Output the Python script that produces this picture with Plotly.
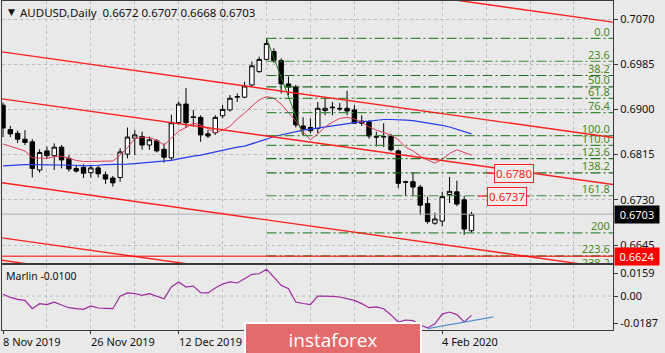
import plotly.graph_objects as go

# ---------------- data ----------------
dates = ["2019-11-08","2019-11-11","2019-11-12","2019-11-13","2019-11-14","2019-11-15",
         "2019-11-18","2019-11-19","2019-11-20","2019-11-21","2019-11-22",
         "2019-11-25","2019-11-26","2019-11-27","2019-11-28","2019-11-29",
         "2019-12-02","2019-12-03","2019-12-04","2019-12-05","2019-12-06",
         "2019-12-09","2019-12-10","2019-12-11","2019-12-12","2019-12-13",
         "2019-12-16","2019-12-17","2019-12-18","2019-12-19","2019-12-20",
         "2019-12-23","2019-12-24","2019-12-26","2019-12-27","2019-12-30","2019-12-31",
         "2020-01-02","2020-01-03","2020-01-06","2020-01-07","2020-01-08","2020-01-09","2020-01-10",
         "2020-01-13","2020-01-14","2020-01-15","2020-01-16","2020-01-17",
         "2020-01-20","2020-01-21","2020-01-22","2020-01-23","2020-01-24",
         "2020-01-27","2020-01-28","2020-01-29","2020-01-30","2020-01-31",
         "2020-02-03","2020-02-04","2020-02-05","2020-02-06","2020-02-07","2020-02-10"]

opens = [0.6908,0.6862,0.6855,0.6844,0.6839,0.6786,0.6822,0.6813,0.6829,0.6808,
         0.6789,0.6791,0.6781,0.6790,0.6777,0.6771,0.6772,0.6816,0.6846,0.6849,
         0.6833,0.6841,0.6825,0.6809,0.6875,0.6910,0.6886,0.6885,0.6854,0.6856,
         0.6888,0.6899,0.6923,0.6923,0.6946,0.6971,0.6994,0.7009,0.6992,0.6948,
         0.6942,0.6869,0.6866,0.6864,0.6898,0.6903,0.6902,0.6902,0.6899,0.6878,
         0.6877,0.6849,0.6848,0.6849,0.6822,0.6764,0.6764,0.6754,0.6723,0.6686,
         0.6690,0.6740,0.6745,0.6730,0.6672]
highs = [0.6913,0.6869,0.6860,0.6861,0.6844,0.6825,0.6830,0.6836,0.6833,0.6814,
         0.6795,0.6797,0.6795,0.6794,0.6783,0.6775,0.6827,0.6866,0.6861,0.6858,
         0.6849,0.6844,0.6836,0.6890,0.6915,0.6940,0.6899,0.6889,0.6861,0.6889,
         0.6908,0.6927,0.6930,0.6952,0.6990,0.6999,0.7034,0.7015,0.6996,0.6962,
         0.6946,0.6885,0.6883,0.6914,0.6921,0.6914,0.6912,0.6935,0.6908,0.6889,
         0.6880,0.6858,0.6874,0.6854,0.6825,0.6766,0.6781,0.6758,0.6736,0.6706,
         0.6745,0.6773,0.6766,0.6737,0.6707]
lows = [0.6848,0.6848,0.6837,0.6833,0.6772,0.6781,0.6808,0.6786,0.6789,0.6783,
        0.6781,0.6771,0.6772,0.6772,0.6760,0.6755,0.6764,0.6808,0.6814,0.6824,
        0.6824,0.6819,0.6800,0.6804,0.6871,0.6865,0.6868,0.6839,0.6846,0.6852,
        0.6883,0.6896,0.6914,0.6921,0.6943,0.6969,0.6992,0.6987,0.6930,0.6927,
        0.6866,0.6851,0.6855,0.6855,0.6889,0.6889,0.6897,0.6889,0.6873,0.6869,
        0.6845,0.6830,0.6829,0.6821,0.6752,0.6737,0.6737,0.6701,0.6685,0.6683,
        0.6680,0.6724,0.6718,0.6664,0.6668]
closes = [0.6865,0.6854,0.6844,0.6838,0.6789,0.6819,0.6813,0.6829,0.6805,0.6788,
          0.6784,0.6780,0.6790,0.6779,0.6769,0.6762,0.6820,0.6848,0.6852,0.6833,
          0.6843,0.6822,0.6810,0.6875,0.6910,0.6875,0.6885,0.6852,0.6850,0.6885,
          0.6900,0.6921,0.6924,0.6944,0.6982,0.6994,0.7024,0.6992,0.6948,0.6942,
          0.6871,0.6863,0.6860,0.6902,0.6902,0.6904,0.6901,0.6897,0.6874,0.6874,
          0.6850,0.6848,0.6849,0.6824,0.6761,0.6763,0.6754,0.6720,0.6689,0.6694,
          0.6736,0.6746,0.6722,0.6675,0.6703]

ma_fast = [0.6835,0.6831,0.6827,0.6822,0.6809,0.6808,0.6808,0.6811,0.6812,0.6808,
           0.6804,0.6802,0.6802,0.6802,0.6802,0.6803,0.6814,0.6828,0.6845,0.6848,
           0.6847,0.6842,0.6833,0.6846,0.6859,0.6866,0.6874,0.6871,0.6864,0.6856,
           0.6861,0.6868,0.6882,0.6893,0.6906,0.6918,0.6924,0.6921,0.6910,0.6895,
           0.6878,0.6858,0.6843,0.6854,0.6867,0.6876,0.6883,0.6885,0.6882,0.6876,
           0.6867,0.6861,0.6856,0.6852,0.6843,0.6829,0.6822,0.6812,0.6805,0.6799,
           0.6806,0.6817,0.6824,0.6819,0.6814]
ma_slow = [0.6794,0.6795,0.6796,0.6796,0.6796,0.6796,0.6796,0.6796,0.6796,0.6796,
           0.6795,0.6794,0.6794,0.6795,0.6796,0.6796,0.6796,0.6797,0.6798,0.6799,
           0.6801,0.6802,0.6803,0.6804,0.6807,0.6810,0.6812,0.6814,0.6817,0.6820,
           0.6823,0.6827,0.6829,0.6831,0.6835,0.6839,0.6844,0.6849,0.6852,0.6856,
           0.6859,0.6861,0.6863,0.6865,0.6867,0.6869,0.6872,0.6874,0.6875,0.6877,
           0.6878,0.6880,0.6881,0.6881,0.6881,0.6880,0.6879,0.6877,0.6875,0.6873,
           0.6870,0.6867,0.6863,0.6859,0.6854]

marlin = [0.0012,-0.0010,-0.0023,-0.0030,-0.0088,-0.0053,-0.0060,-0.0042,-0.0062,-0.0081,
          -0.0087,-0.0092,-0.0069,-0.0083,-0.0085,-0.0088,-0.0002,0.0021,0.0017,0.0005,
          0.0016,-0.0003,-0.0019,0.0062,0.0097,0.0062,0.0069,0.0023,0.0021,0.0055,
          0.0083,0.0097,0.0090,0.0120,0.0150,0.0154,0.0185,0.0131,0.0074,0.0051,
          -0.0042,-0.0052,-0.0060,0.0000,0.0000,-0.0002,-0.0007,-0.0021,-0.0030,-0.0053,
          -0.0081,-0.0076,-0.0088,-0.0131,-0.0180,-0.0166,-0.0170,-0.0201,-0.0221,-0.0192,
          -0.0125,-0.0111,-0.0129,-0.0180,-0.0134]

price_ticks = [0.7070, 0.6985, 0.6900, 0.6815, 0.6730, 0.6645]
marlin_ticks = [0.0159, 0.0, -0.0187]
marlin_tick_text = ["0.0159", "0.00", "-0.0187"]
date_tick_idx = [0, 12, 24, 36, 48, 60]
date_label_idx = [0, 12, 24, 60]
date_label_text = ["8 Nov 2019", "26 Nov 2019", "12 Dec 2019", "4 Feb 2020"]

fib_high, fib_low = 0.70337, 0.68507
fib_high_idx, fib_low_idx = 36, 41
fib_levels = [0.0, 23.6, 38.2, 50.0, 61.8, 76.4, 100.0, 110.0, 123.6, 138.2, 161.8, 200.0, 223.6, 238.2]
fib_labels = ["0.0", "23.6", "38.2", "50.0", "61.8", "76.4", "100.0", "110.0",
              "123.6", "138.2", "161.8", "200", "223.6", "238.2"]

channel_x = [-1, 84]
channel_lines = [[0.72268, 0.70628], [0.70098, 0.68458], [0.69215, 0.67575],
                 [0.67636, 0.65996], [0.66601, 0.64961], [0.66179, 0.64539]]

last_price = 0.6703
support_price = 0.6624
mark_prices = [0.6780, 0.6737]
mark_seg_x = [[66.1, 73.1], [64.9, 72.0]]
mark_label_x = [69.8, 68.9]

marlin_trend_x = [58, 67]
marlin_trend_y = [-0.0226, -0.0145]

title_text = "AUDUSD,Daily  0.6672 0.6707 0.6668 0.6703"

# ---------------- figure ----------------
idx = list(range(len(dates)))
FONT = "Noto Sans"
BG = "#e9e9e9"
GRID = "#bdbdbd"
FRAME = "#3a3a3a"
XR = [-0.137, 83.33]

fig = go.Figure()

fig.add_trace(go.Candlestick(
    x=idx, open=opens, high=highs, low=lows, close=closes,
    increasing=dict(line=dict(color="black", width=1), fillcolor="white"),
    decreasing=dict(line=dict(color="black", width=1), fillcolor="black"),
    whiskerwidth=0, hoverinfo="skip", showlegend=False, xaxis="x", yaxis="y"))

fig.add_trace(go.Scatter(x=idx, y=ma_slow, mode="lines", line=dict(color="#2a3cf0", width=1.2),
                         hoverinfo="skip", showlegend=False))
fig.add_trace(go.Scatter(x=idx, y=ma_fast, mode="lines", line=dict(color="#e23a5a", width=1),
                         hoverinfo="skip", showlegend=False))

# current price line
fig.add_trace(go.Scatter(x=channel_x, y=[last_price, last_price], mode="lines",
                         line=dict(color="#b0b0b0", width=1), hoverinfo="skip", showlegend=False))

# fibonacci
rng = fib_high - fib_low
fib_prices = [fib_high - lv / 100.0 * rng for lv in fib_levels]
for lv, p in zip(fib_levels, fib_prices):
    col = "#1f6e1f" if lv in (38.2, 50.0, 123.6, 138.2) else "#3f8a3f"
    fig.add_trace(go.Scatter(x=[fib_high_idx, 90], y=[p, p], mode="lines",
                             line=dict(color=col, width=1.2, dash="10px,3px,2px,3px"),
                             hoverinfo="skip", showlegend=False))
fig.add_trace(go.Scatter(x=[fib_high_idx, fib_low_idx], y=[fib_high, fib_low], mode="lines",
                         line=dict(color="#1f7a1f", width=1), hoverinfo="skip", showlegend=False))
fig.add_trace(go.Scatter(x=[82.9] * len(fib_prices), y=fib_prices, mode="text", text=fib_labels,
                         textposition="top left", textfont=dict(family=FONT, size=11, color="#4a8a22"),
                         cliponaxis=True, hoverinfo="skip", showlegend=False))

# channel lines
for ln in channel_lines:
    fig.add_trace(go.Scatter(x=channel_x, y=ln, mode="lines", line=dict(color="#ff2020", width=1.4),
                             hoverinfo="skip", showlegend=False))
fig.add_trace(go.Scatter(x=channel_x, y=[support_price, support_price], mode="lines",
                         line=dict(color="#ff0000", width=1), hoverinfo="skip", showlegend=False))
for p, sx in zip(mark_prices, mark_seg_x):
    fig.add_trace(go.Scatter(x=sx, y=[p, p], mode="lines", line=dict(color="#ff3030", width=1.4),
                             hoverinfo="skip", showlegend=False))

# Marlin
fig.add_trace(go.Scatter(x=idx, y=marlin, mode="lines", line=dict(color="#9b2a9e", width=1.2),
                         xaxis="x2", yaxis="y2", hoverinfo="skip", showlegend=False))
fig.add_trace(go.Scatter(x=marlin_trend_x, y=marlin_trend_y, mode="lines",
                         line=dict(color="#5a8fcf", width=1.3),
                         xaxis="x2", yaxis="y2", hoverinfo="skip", showlegend=False))

L, R, T, B = 2, 52, 1, 23
H, W = 353, 665
ph = H - T - B
main_bottom = (H - B - 263) / ph
sub_top = (H - B - 265) / ph

def px_x(px):
    return (px - L) / (W - L - R)

def px_y(py):
    return (H - B - py) / ph

minor = dict(tick0=0, dtick=6, showgrid=True, gridcolor=GRID, griddash="3px,3px", gridwidth=1, ticks="")

fig.update_layout(
    width=W, height=H, margin=dict(l=L, r=R, t=T, b=B),
    paper_bgcolor=BG, plot_bgcolor=BG, showlegend=False,
    boxgap=0.2, boxgroupgap=0.25,
    xaxis=dict(domain=[0, 1], anchor="y", range=XR, tickvals=date_tick_idx, ticktext=[""] * 6,
               showticklabels=False, ticks="", showgrid=True, gridcolor=GRID, griddash="3px,3px",
               minor=minor, showline=True, mirror=True, linecolor=FRAME, linewidth=1,
               zeroline=False, rangeslider=dict(visible=False), fixedrange=True),
    yaxis=dict(domain=[main_bottom, 1], anchor="x", side="right", range=[0.661118, 0.710385],
               tickvals=price_ticks, ticktext=[f"{v:.4f}" for v in price_ticks],
               tickfont=dict(family=FONT, size=11, color="#111"), ticks="outside", ticklen=4,
               tickcolor=FRAME, showgrid=True, gridcolor=GRID, griddash="3px,3px",
               showline=True, mirror=True, linecolor=FRAME, linewidth=1, zeroline=False),
    xaxis2=dict(domain=[0, 1], anchor="y2", range=XR, tickvals=date_tick_idx, ticktext=[""] * 6,
                showticklabels=False, ticks="outside", ticklen=3, tickcolor=FRAME,
                showgrid=True, gridcolor=GRID, griddash="3px,3px", minor=minor,
                showline=True, mirror=True, linecolor=FRAME, linewidth=1, zeroline=False),
    yaxis2=dict(domain=[0, sub_top], anchor="x2", side="right", range=[-0.02353, 0.02145],
                tickvals=marlin_ticks, ticktext=marlin_tick_text,
                tickfont=dict(family=FONT, size=11, color="#111"), ticks="outside", ticklen=4,
                tickcolor=FRAME, showgrid=False,
                showline=True, mirror=True, linecolor=FRAME, linewidth=1, zeroline=False),
)

# Marlin zero level
fig.add_shape(type="line", xref="x2", yref="y2", x0=XR[0], x1=XR[1], y0=0, y1=0,
              line=dict(color=GRID, width=1, dash="3px,3px"), layer="below")

ann = []
ann.append(dict(xref="paper", yref="paper", x=px_x(6), y=px_y(12), text="▼", showarrow=False,
                xanchor="left", yanchor="middle", font=dict(family="DejaVu Sans", size=9, color="#111")))
ann.append(dict(xref="paper", yref="paper", x=px_x(18), y=px_y(12), text=title_text, showarrow=False,
                xanchor="left", yanchor="middle", font=dict(family=FONT, size=11.5, color="#111")))
ann.append(dict(xref="paper", yref="paper", x=px_x(4), y=px_y(276), text="Marlin -0.0100", showarrow=False,
                xanchor="left", yanchor="middle", font=dict(family=FONT, size=10.5, color="#111")))
for i, t in zip(date_label_idx, date_label_text):
    ann.append(dict(xref="x2", yref="paper", x=i, y=px_y(341), text=t, showarrow=False,
                    xanchor="left", yanchor="middle", xshift=-2,
                    font=dict(family=FONT, size=11, color="#111")))
for p, lx in zip(mark_prices, mark_label_x):
    ann.append(dict(xref="x", yref="y", x=lx, y=p, text=f"{p:.4f}", showarrow=False,
                    xanchor="center", yanchor="middle", bgcolor="#f1eded", bordercolor="#ff2020",
                    borderwidth=1, borderpad=1, font=dict(family=FONT, size=11.5, color="#ff2020")))
ann.append(dict(xref="paper", yref="y", x=1, y=last_price, text=f"{last_price:.4f}", showarrow=False,
                xanchor="left", yanchor="middle", xshift=1, bgcolor="#000000", width=42, borderpad=1,
                font=dict(family=FONT, size=11, color="white")))
ann.append(dict(xref="paper", yref="y", x=1, y=support_price, text=f"{support_price:.4f}", showarrow=False,
                xanchor="left", yanchor="middle", xshift=1, bgcolor="#ff0000", width=42, borderpad=1,
                font=dict(family=FONT, size=11, color="white")))
# watermark logo
ann.append(dict(xref="paper", yref="paper", x=px_x(333), y=px_y(322), text="instaforex", showarrow=False,
                xanchor="center", yanchor="top", bgcolor="#e36b6b", bordercolor="white", borderwidth=2,
                borderpad=0, width=174, height=32, valign="middle",
                font=dict(family="Open Sans", size=19, color="white")))
fig.update_layout(annotations=ann)

fig.write_html("out.html")
